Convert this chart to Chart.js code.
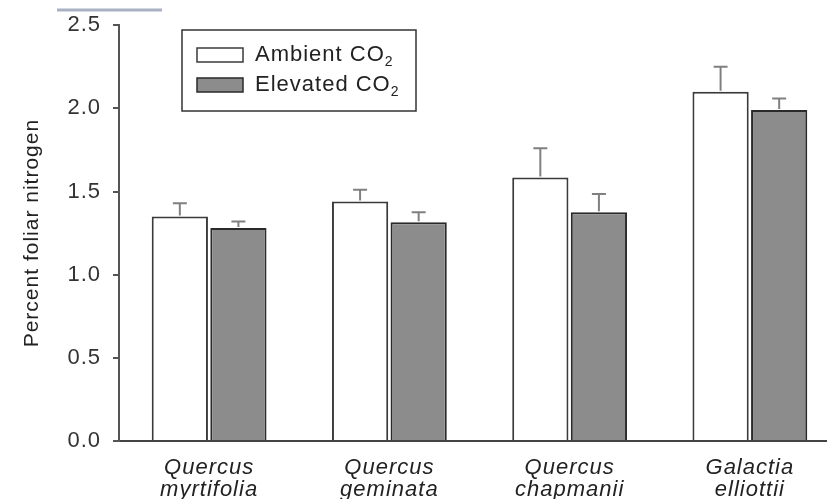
<!DOCTYPE html>
<html>
<head>
<meta charset="utf-8">
<script src="https://cdn.jsdelivr.net/npm/chart.js@4.4.0/dist/chart.umd.min.js"></script>
<style>
  html, body { margin: 0; padding: 0; overflow: hidden; background: #fff; }
  #wrap { width: 840px; height: 499px; }
</style>
</head>
<body>
<div id="wrap"><canvas id="chart" width="840" height="499"></canvas></div>
<script>
const species = [['Quercus', 'myrtifolia'], ['Quercus', 'geminata'], ['Quercus', 'chapmanii'], ['Galactia', 'elliottii']];
const ambient = [1.35, 1.44, 1.585, 2.10];
const ambientSE = [0.08, 0.07, 0.175, 0.15];
const elevated = [1.28, 1.315, 1.375, 1.99];
const elevatedSE = [0.04, 0.06, 0.11, 0.07];
const yTicks = [0, 0.5, 1.0, 1.5, 2.0, 2.5];

const FONT = "'Liberation Sans', Arial, sans-serif";

// the scanned figure has slightly wide lettering
const wideText = {
  id: 'wideText',
  beforeLayout(chart) { chart.ctx.letterSpacing = '1px'; },
  beforeDraw(chart) { chart.ctx.letterSpacing = '1px'; }
};

// upward-only error bars
const errorBars = {
  id: 'errorBars',
  afterDatasetsDraw(chart) {
    const ctx = chart.ctx;
    const y = chart.scales.y;
    chart.data.datasets.forEach((ds, i) => {
      const meta = chart.getDatasetMeta(i);
      meta.data.forEach((bar, j) => {
        const top = y.getPixelForValue(ds.data[j] + ds.errors[j]);
        ctx.save();
        ctx.strokeStyle = '#808080';
        ctx.lineWidth = 2;
        ctx.beginPath();
        ctx.moveTo(bar.x, bar.y - 1);
        ctx.lineTo(bar.x, top);
        ctx.moveTo(bar.x - 7, top);
        ctx.lineTo(bar.x + 7, top);
        ctx.stroke();
        ctx.restore();
      });
    });
  }
};

// boxed legend inside the plot, with subscript 2
const boxLegend = {
  id: 'boxLegend',
  afterDraw(chart) {
    const ctx = chart.ctx;
    ctx.save();
    ctx.strokeStyle = '#333';
    ctx.lineWidth = 1.5;
    ctx.strokeRect(182, 30, 234, 81);
    chart.data.datasets.forEach((ds, i) => {
      const cy = 55 + i * 30;
      ctx.fillStyle = ds.backgroundColor;
      ctx.fillRect(197, cy - 7, 46, 14);
      ctx.strokeStyle = ds.borderColor;
      ctx.lineWidth = 1.5;
      ctx.strokeRect(197, cy - 7, 46, 14);
      const base = ds.label.replace('₂', '');
      ctx.fillStyle = '#222';
      ctx.textBaseline = 'middle';
      ctx.font = '22px ' + FONT;
      ctx.fillText(base, 255, cy);
      const w = ctx.measureText(base).width;
      ctx.font = '14px ' + FONT;
      ctx.fillText('2', 255 + w, cy + 7);
    });
    // stray rule at top left of the scan
    ctx.strokeStyle = '#a9b1c2';
    ctx.lineWidth = 3;
    ctx.beginPath();
    ctx.moveTo(57, 10);
    ctx.lineTo(162, 10);
    ctx.stroke();
    ctx.restore();
  }
};

new Chart(document.getElementById('chart'), {
  type: 'bar',
  data: {
    labels: species,
    datasets: [
      {
        label: 'Ambient CO₂',
        data: ambient,
        errors: ambientSE,
        backgroundColor: '#ffffff',
        borderColor: '#3a3a3a',
        borderWidth: 2
      },
      {
        label: 'Elevated CO₂',
        data: elevated,
        errors: elevatedSE,
        backgroundColor: '#8c8c8c',
        borderColor: '#2a2a2a',
        borderWidth: 2
      }
    ]
  },
  options: {
    responsive: false,
    animation: false,
    layout: { padding: { top: 23, right: 0, bottom: 0, left: 0 } },
    plugins: {
      legend: { display: false },
      tooltip: { enabled: false }
    },
    datasets: {
      bar: { categoryPercentage: 0.65, barPercentage: 0.96 }
    },
    scales: {
      x: {
        grid: { display: false, drawTicks: false },
        border: { display: true, color: '#444', width: 2 },
        ticks: {
          color: '#222',
          padding: 16,
          maxRotation: 0,
          font: { family: FONT, size: 22, style: 'italic', lineHeight: 1.0 }
        },
        afterFit(scale) { scale.height = 58; }
      },
      y: {
        min: 0,
        max: 2.5,
        afterBuildTicks(scale) { scale.ticks = yTicks.map(v => ({ value: v })); },
        grid: { drawOnChartArea: false, drawTicks: true, tickLength: 6, color: '#555', lineWidth: 2 },
        border: { display: true, color: '#555', width: 2 },
        ticks: {
          color: '#333',
          padding: 12,
          font: { family: FONT, size: 22 },
          callback: v => v.toFixed(1)
        },
        title: {
          display: true,
          text: 'Percent foliar nitrogen',
          color: '#222',
          padding: { top: 20, bottom: 0 },
          font: { family: FONT, size: 21 }
        },
        afterFit(scale) { scale.width = 119; }
      }
    }
  },
  plugins: [wideText, errorBars, boxLegend]
});
</script>
</body>
</html>
